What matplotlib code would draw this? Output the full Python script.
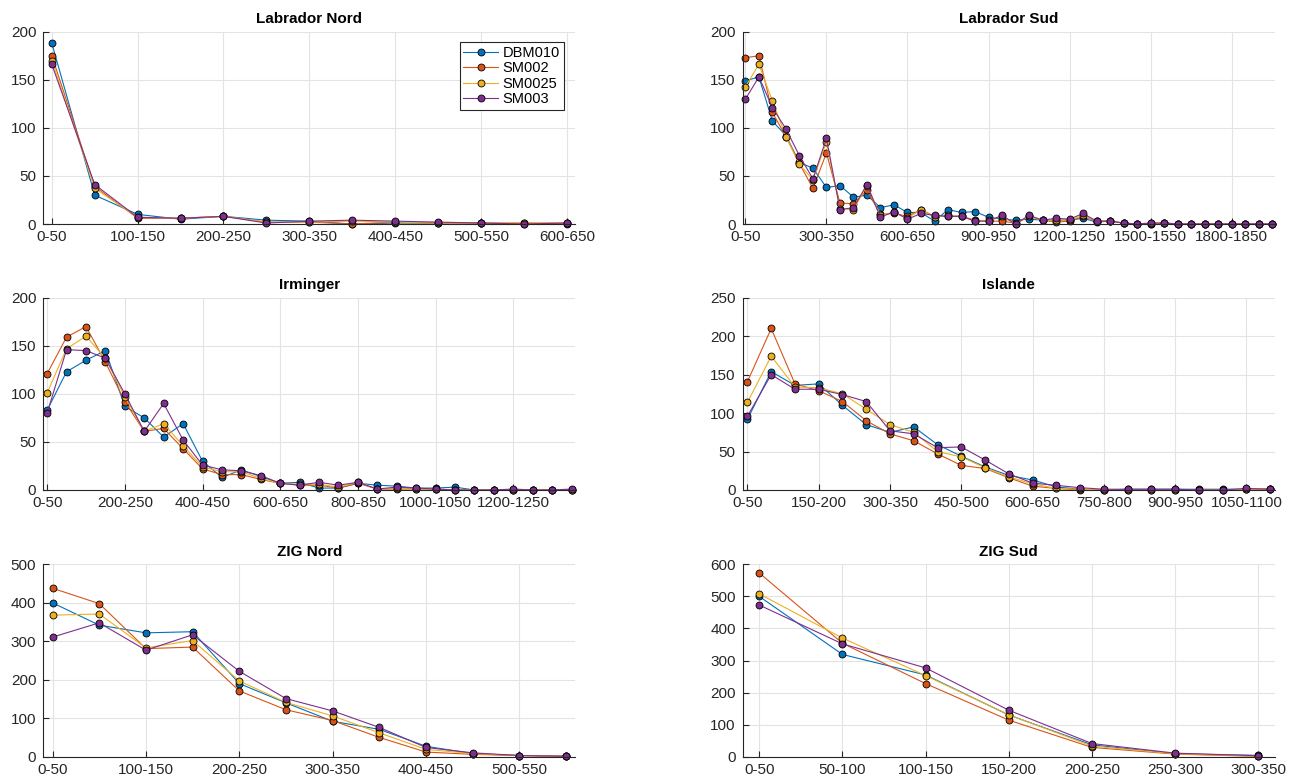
import numpy as np
import matplotlib
matplotlib.use('Agg')
import matplotlib.pyplot as plt

plt.rcParams['font.family'] = ['Liberation Sans', 'DejaVu Sans']

series = ['DBM010', 'SM002', 'SM0025', 'SM003']
colors = ['#0072BD', '#D95319', '#EDB120', '#7E2F8E']

# Labrador Nord
ln_dbm010 = [188, 30, 10, 5, 8, 4, 3, 0, 1, 1, 1, 0, 0]
ln_sm002 = [175, 39, 6, 6, 8, 2, 2, 0, 2, 1, 1, 1, 1]
ln_sm0025 = [170, 37, 7, 6, 8, 2, 2, 3, 2, 1, 1, 1, 1]
ln_sm003 = [166, 41, 7, 6, 8, 1, 3, 4, 3, 2, 1, 0, 1]

# Labrador Sud
ls_dbm010 = [149, 153, 107, 92, 64, 58, 38, 40, 28, 30, 17, 20, 12, 12, 3, 15, 12, 13, 7, 5,
             4, 5, 4, 4, 4, 6, 2, 3, 1, 0, 0, 1, 0, 0, 0, 0, 0, 0, 0, 0]
ls_sm002 = [173, 175, 116, 91, 63, 37, 74, 22, 21, 35, 10, 11, 8, 15, 8, 8, 8, 4, 3, 3,
            1, 8, 4, 2, 3, 8, 3, 3, 1, 0, 0, 1, 0, 0, 0, 0, 0, 0, 0, 0]
ls_sm0025 = [143, 166, 128, 91, 62, 46, 85, 16, 15, 40, 9, 12, 6, 15, 7, 9, 8, 3, 4, 8,
             0, 8, 4, 4, 4, 9, 3, 3, 1, 0, 1, 1, 0, 0, 0, 0, 0, 0, 0, 0]
ls_sm003 = [130, 153, 121, 99, 71, 47, 89, 15, 17, 41, 7, 13, 5, 11, 9, 8, 8, 3, 3, 9,
            0, 9, 4, 6, 5, 11, 3, 3, 1, 0, 1, 1, 0, 0, 0, 0, 0, 0, 0, 0]

# Irminger
ir_dbm010 = [83, 123, 135, 145, 87, 75, 55, 69, 30, 13, 21, 14, 7, 8, 2, 2, 7, 5, 4, 2, 2, 3, 0, 0, 0, 0, 0, 0]
ir_sm002 = [121, 159, 170, 133, 92, 61, 64, 43, 22, 16, 16, 11, 7, 5, 5, 2, 7, 1, 1, 1, 1, 0, 0, 0, 0, 0, 0, 0]
ir_sm0025 = [101, 147, 160, 137, 97, 61, 69, 46, 24, 19, 19, 12, 7, 6, 6, 3, 8, 1, 2, 1, 1, 0, 0, 0, 0, 0, 0, 0]
ir_sm003 = [80, 146, 145, 137, 100, 61, 90, 52, 26, 21, 20, 15, 7, 5, 8, 5, 8, 1, 3, 2, 1, 0, 0, 0, 1, 0, 0, 1]

# Islande
is_dbm010 = [92, 154, 136, 138, 110, 85, 75, 82, 59, 44, 30, 19, 13, 4, 1, 0, 1, 1, 1, 1, 1, 1, 1]
is_sm002 = [141, 210, 138, 129, 115, 90, 73, 64, 47, 32, 28, 16, 5, 2, 0, 0, 0, 0, 0, 0, 0, 1, 1]
is_sm0025 = [114, 174, 134, 133, 125, 105, 85, 75, 50, 43, 29, 17, 8, 2, 1, 0, 0, 0, 0, 0, 0, 1, 1]
is_sm003 = [96, 150, 131, 131, 124, 115, 77, 73, 55, 56, 39, 21, 9, 6, 3, 1, 1, 1, 1, 0, 0, 2, 1]

# ZIG Nord
zn_dbm010 = [400, 342, 322, 325, 190, 140, 92, 71, 27, 8, 3, 1]
zn_sm002 = [438, 398, 281, 285, 171, 122, 94, 50, 12, 6, 3, 1]
zn_sm0025 = [368, 371, 283, 302, 197, 141, 106, 62, 19, 8, 3, 1]
zn_sm003 = [311, 348, 277, 317, 222, 151, 119, 76, 24, 10, 3, 1]

# ZIG Sud
zs_dbm010 = [500, 319, 255, 130, 37, 9, 4]
zs_sm002 = [573, 354, 228, 114, 29, 8, 1]
zs_sm0025 = [508, 370, 253, 131, 33, 9, 2]
zs_sm003 = [473, 352, 277, 145, 41, 11, 3]

panels = [
    ('Labrador Nord', [ln_dbm010, ln_sm002, ln_sm0025, ln_sm003], 200, 50, 2),
    ('Labrador Sud', [ls_dbm010, ls_sm002, ls_sm0025, ls_sm003], 200, 50, 6),
    ('Irminger', [ir_dbm010, ir_sm002, ir_sm0025, ir_sm003], 200, 50, 4),
    ('Islande', [is_dbm010, is_sm002, is_sm0025, is_sm003], 250, 50, 3),
    ('ZIG Nord', [zn_dbm010, zn_sm002, zn_sm0025, zn_sm003], 500, 100, 2),
    ('ZIG Sud', [zs_dbm010, zs_sm002, zs_sm0025, zs_sm003], 600, 100, 1),
]

fig = plt.figure(figsize=(12.91, 7.80), dpi=100)
lefts = [0.0335, 0.5753]
width = 0.4122
bottoms = [0.7128, 0.3718, 0.0299]
height = 0.2465
axis_col = '#262626'

for k, (title, data, ymax, ystep, lstep) in enumerate(panels):
    ax = fig.add_axes([lefts[k % 2], bottoms[k // 2], width, height])
    n = len(data[0])
    x = np.arange(1, n + 1)
    for vals, name, c in zip(data, series, colors):
        ax.plot(x, vals, '-o', color=c, lw=0.8, ms=5, mfc=c, mec='black', mew=0.6,
                label=name, clip_on=False)
    ax.set_xlim(0.8, n + 0.2)
    ax.set_ylim(0, ymax)
    ax.set_yticks(np.arange(0, ymax + 1, ystep))
    tpos = x[::lstep]
    ax.set_xticks(tpos)
    ax.set_xticklabels(['%d-%d' % (50 * (i - 1), 50 * i) for i in tpos])
    ax.tick_params(direction='in', length=4, width=0.8, colors=axis_col, labelsize=11)
    ax.tick_params(axis='x', pad=4.5)
    ax.tick_params(axis='y', pad=5)
    ax.grid(True, color='#e3e3e3', lw=0.8)
    ax.set_axisbelow(True)
    for s in ['top', 'right']:
        ax.spines[s].set_visible(False)
    for s in ['left', 'bottom']:
        ax.spines[s].set_color(axis_col)
        ax.spines[s].set_linewidth(0.8)
    ax.set_title(title, fontsize=11, fontweight='bold', pad=6)
    if k == 0:
        leg = ax.legend(loc='upper right', bbox_to_anchor=(0.978, 0.945), borderaxespad=0,
                        fontsize=10.5, handlelength=2.4, handletextpad=0.3, labelspacing=0.1,
                        borderpad=0.25, fancybox=False, framealpha=1)
        leg.get_frame().set_edgecolor('#262626')
        leg.get_frame().set_linewidth(0.8)

plt.savefig('out.png', dpi=100)
